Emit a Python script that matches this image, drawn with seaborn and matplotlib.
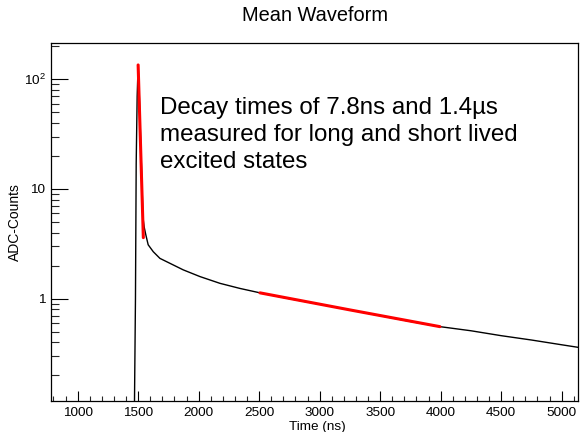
import numpy as np
import pandas as pd
import matplotlib
matplotlib.use("Agg")
import matplotlib.pyplot as plt
import seaborn as sns
from matplotlib.ticker import FixedLocator, MultipleLocator, LogLocator, NullFormatter, FixedFormatter

# Mean waveform
wave_time = [800, 1000, 1200, 1400, 1466, 1478, 1484, 1492, 1500, 1510, 1520, 1530, 1540,
             1550, 1564, 1583, 1625, 1680, 1763, 1873, 2011, 2176, 2341, 2507, 2750,
             3002, 3250, 3500, 3750, 3994, 4250, 4500, 4750, 5000, 5137]
wave_counts = [0.04, 0.04, 0.04, 0.04, 0.04, 1.0, 17, 70, 135, 70, 30, 13, 5.5,
               4.5, 3.8, 3.1, 2.68, 2.33, 2.10, 1.83, 1.59, 1.38, 1.24, 1.13, 1.0,
               0.889, 0.79, 0.70, 0.62, 0.556, 0.51, 0.46, 0.42, 0.38, 0.36]

# Fitted exponential segments (red)
fit_fast_time = [1500, 1543]
fit_fast_counts = [135, 3.6]
fit_slow_time = [2507, 3250, 3994]
fit_slow_counts = [1.13, 0.79, 0.556]

x_major_ticks = [1000, 1500, 2000, 2500, 3000, 3500, 4000, 4500, 5000]
y_major_ticks = [1, 10, 100]
y_tick_labels = ["1", "10", r"$10^{2}$"]

title = "Mean Waveform"
xlabel = "Time (ns)"
ylabel = "ADC-Counts"
note = "Decay times of 7.8ns and 1.4\u00b5s\nmeasured for long and short lived\nexcited states"

sns.set_style("ticks")
plt.rcParams["font.family"] = ["Liberation Sans", "DejaVu Sans"]
plt.rcParams["mathtext.fontset"] = "custom"
plt.rcParams["mathtext.rm"] = "Liberation Sans"
plt.rcParams["text.color"] = "black"

fig = plt.figure(figsize=(5.8, 4.32), dpi=100)
ax = fig.add_axes([51 / 580, 1 - 400.7 / 432, (578 - 51) / 580, (400.7 - 43) / 432])

df_wave = pd.DataFrame({"t": wave_time, "c": wave_counts})
df_f1 = pd.DataFrame({"t": fit_fast_time, "c": fit_fast_counts})
df_f2 = pd.DataFrame({"t": fit_slow_time, "c": fit_slow_counts})

sns.lineplot(data=df_wave, x="t", y="c", ax=ax, color="black", linewidth=1.0,
             sort=False, estimator=None)
sns.lineplot(data=df_f1, x="t", y="c", ax=ax, color="#ff0000", linewidth=2.2,
             sort=False, estimator=None)
sns.lineplot(data=df_f2, x="t", y="c", ax=ax, color="#ff0000", linewidth=2.2,
             sort=False, estimator=None)

ax.set_yscale("log")
ax.set_xlim(780, 5135)
ax.set_ylim(0.1175, 214)

ax.xaxis.set_major_locator(FixedLocator(x_major_ticks))
ax.xaxis.set_minor_locator(MultipleLocator(100))
ax.yaxis.set_major_locator(FixedLocator(y_major_ticks))
ax.yaxis.set_major_formatter(FixedFormatter(y_tick_labels))
ax.yaxis.set_minor_locator(LogLocator(base=10, subs=np.arange(2, 10)))
ax.yaxis.set_minor_formatter(NullFormatter())

ax.tick_params(axis="x", which="major", direction="in", length=7.2, width=0.8,
               labelsize=9.7, pad=4.8, colors="black")
ax.tick_params(axis="x", which="minor", direction="in", length=3.5, width=0.8)
ax.tick_params(axis="y", which="major", direction="in", length=12, width=0.8,
               labelsize=9.7, pad=4, colors="black")
ax.tick_params(axis="y", which="minor", direction="in", length=6, width=0.8)

for s in ax.spines.values():
    s.set_visible(True)
    s.set_linewidth(0.9)
    s.set_color("black")

ax.set_xlabel("")
ax.set_ylabel("")
fig.text(317 / 580, 1 - 430 / 432, xlabel, ha="center", va="baseline", fontsize=9.7,
         color="black")
fig.text(14.5 / 580, 1 - 222 / 432, ylabel, ha="center", va="center", rotation=90,
         fontsize=10, color="black")
fig.text(315 / 580, 1 - 20.7 / 432, title, ha="center", va="baseline", fontsize=14.4,
         color="black")
fig.text(160 / 580, 1 - 168 / 432, note, ha="left", va="baseline", fontsize=17.4,
         linespacing=1.3, color="black")

fig.savefig("out.png", dpi=100, facecolor="white")
